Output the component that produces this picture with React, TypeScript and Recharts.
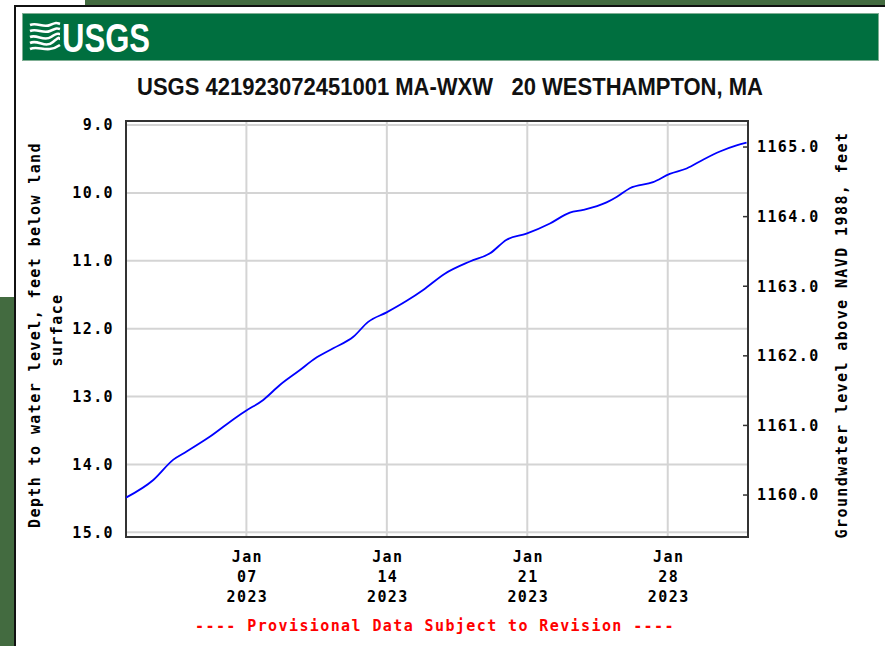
import { LineChart, Line, XAxis, YAxis, CartesianGrid, ReferenceArea } from "recharts";

// days since 2023-01-01 00:00
const dayOffsets = [
  0, 1.36, 2.36, 3.02, 4.19, 5.52, 5.98, 6.84, 7.67, 8.67, 9.42, 10.33, 11.33, 12.07, 12.99,
  13.99, 14.81, 15.89, 17.14, 18.14, 18.97, 19.96, 21.13, 22.12, 22.79, 23.95, 24.45, 25.11,
  26.27, 27.1, 27.94, 28.76, 29.6, 30.43, 30.93,
];
const depthFt = [
  14.49, 14.23, 13.93, 13.81, 13.59, 13.3, 13.21, 13.05, 12.83, 12.61, 12.44, 12.29, 12.12, 11.9,
  11.76, 11.59, 11.43, 11.19, 11.01, 10.89, 10.69, 10.6, 10.45, 10.29, 10.25, 10.14, 10.06, 9.93,
  9.84, 9.72, 9.64, 9.51, 9.39, 9.3, 9.26,
];

const xTicks = [6, 13, 20, 27];
const xTickMonth = ["Jan", "Jan", "Jan", "Jan"];
const xTickDay = ["07", "14", "21", "28"];
const xTickYear = ["2023", "2023", "2023", "2023"];

const depthTicks = [9, 10, 11, 12, 13, 14, 15];
const elevTicks = [1160, 1161, 1162, 1163, 1164, 1165];

const depthDomain: [number, number] = [8.94, 15.07];
const elevDomain: [number, number] = [1159.397, 1165.374];
const xDomain: [number, number] = [0, 31];

const data = dayOffsets.map((d, i) => ({ day: d, depth: depthFt[i] }));

const MONO = "'DejaVu Sans Mono', 'Liberation Mono', monospace";
const tickFont = { fontFamily: MONO, fontSize: 15, fontWeight: 700, fill: "#000", letterSpacing: 1.4 };

const XTick = (props: any) => {
  const { x, y, payload } = props;
  const i = xTicks.indexOf(payload.value);
  const lines = [xTickMonth[i], xTickDay[i], xTickYear[i]];
  return (
    <g>
      {lines.map((t, k) => (
        <text
          key={k}
          x={x + 1}
          y={y + 17 + k * 20}
          textAnchor="middle"
          style={tickFont as any}
        >
          {t}
        </text>
      ))}
    </g>
  );
};

const UsgsWaves = () => (
  <svg width={32} height={32} style={{ position: "absolute", left: 29, top: 21 }}>
    <g fill="none" stroke="#fff" strokeWidth={2.6}>
      <path d="M1,4 C8,1 14,7 21,4 S28,2 31,3" />
      <path d="M1,10 C8,7 14,13 21,10 S28,7 31,8" />
      <path d="M1,16 C8,13 15,21 22,16 S28,13 31,13" />
      <path d="M1,22 C9,18 16,28 24,21 S29,18 31,18" />
      <path d="M1,28 C10,24 18,33 31,24" />
    </g>
  </svg>
);

export default function App() {
  return (
    <div
      style={{
        position: "absolute",
        left: 0,
        top: 0,
        width: 885,
        height: 646,
        background: "#fff",
        overflow: "hidden",
      }}
    >
      {/* page frame */}
      <div style={{ position: "absolute", left: 85, top: 0, width: 800, height: 6, background: "#436b40" }} />
      <div style={{ position: "absolute", left: 0, top: 297, width: 15, height: 349, background: "#436b40" }} />
      <div style={{ position: "absolute", left: 15, top: 5, width: 870, height: 2, background: "#111" }} />
      <div style={{ position: "absolute", left: 14, top: 5, width: 2, height: 641, background: "#111" }} />

      {/* header */}
      <div
        style={{
          position: "absolute",
          left: 22,
          top: 13,
          width: 855,
          height: 46,
          background: "#006f3f",
          border: "1px solid #7fae93",
        }}
      />
      <UsgsWaves />
      <svg width={885} height={646} style={{ position: "absolute", left: 0, top: 0 }}>
        <text
          x={62}
          y={52}
          textLength={88}
          lengthAdjust="spacingAndGlyphs"
          style={{ fontFamily: "'Liberation Sans Narrow', 'Liberation Sans', Arial", fontWeight: 700, fontSize: 41, fill: "#fff" }}
        >
          USGS
        </text>
        <text
          x={137}
          y={95}
          textLength={626}
          lengthAdjust="spacingAndGlyphs"
          style={{
            fontFamily: "'Liberation Sans Narrow', 'Liberation Sans', Arial",
            fontWeight: 700,
            fontSize: 23,
            fill: "#111",
            whiteSpace: "pre",
          }}
        >
          USGS 421923072451001 MA-WXW   20 WESTHAMPTON, MA
        </text>
      </svg>

      <div style={{ position: "absolute", left: 0, top: 0 }}>
        <LineChart width={885} height={646} data={data} margin={{ top: 121, right: 37, bottom: 39, left: 66 }}>
          <CartesianGrid yAxisId="left" stroke="#d4d4d4" strokeWidth={2} />
          <XAxis
            dataKey="day"
            type="number"
            domain={xDomain}
            allowDataOverflow
            ticks={xTicks}
            tick={<XTick />}
            tickLine={false}
            axisLine={false}
            height={70}
            interval={0}
          />
          <YAxis
            yAxisId="left"
            type="number"
            domain={depthDomain}
            allowDataOverflow
            reversed
            ticks={depthTicks}
            interval={0}
            tickFormatter={(v: number) => v.toFixed(1)}
            tick={tickFont}
            tickLine={false}
            axisLine={false}
            tickMargin={6}
            width={60}
          />
          <YAxis
            yAxisId="right"
            orientation="right"
            type="number"
            domain={elevDomain}
            allowDataOverflow
            ticks={elevTicks}
            interval={0}
            tickFormatter={(v: number) => v.toFixed(1)}
            tick={tickFont}
            tickLine={{ stroke: "#333", strokeWidth: 1.5 }}
            tickSize={-5}
            axisLine={false}
            tickMargin={14}
            width={100}
          />
          <Line
            yAxisId="left"
            dataKey="depth"
            type="monotone"
            stroke="#0000ff"
            strokeWidth={1.8}
            dot={false}
            isAnimationActive={false}
          />
          <ReferenceArea
            yAxisId="left"
            x1={xDomain[0]}
            x2={xDomain[1]}
            y1={depthDomain[0]}
            y2={depthDomain[1]}
            fill="none"
            stroke="#333"
            strokeWidth={2}
          />
        </LineChart>
      </div>

      {/* axis titles and footer */}
      <svg width={885} height={646} style={{ position: "absolute", left: 0, top: 0, pointerEvents: "none" }}>
        <g style={tickFont as any}>
          <text x={0} y={0} transform="translate(40,335) rotate(-90)" textAnchor="middle">
            Depth to water level, feet below land
          </text>
          <text x={0} y={0} transform="translate(62,330) rotate(-90)" textAnchor="middle">
            surface
          </text>
          <text x={0} y={0} transform="translate(847,335) rotate(-90)" textAnchor="middle">
            Groundwater level above NAVD 1988, feet
          </text>
        </g>
        <text
          x={435}
          y={631}
          textAnchor="middle"
          style={{ ...(tickFont as any), fill: "#ff0000" }}
        >
          ---- Provisional Data Subject to Revision ----
        </text>
      </svg>
    </div>
  );
}
